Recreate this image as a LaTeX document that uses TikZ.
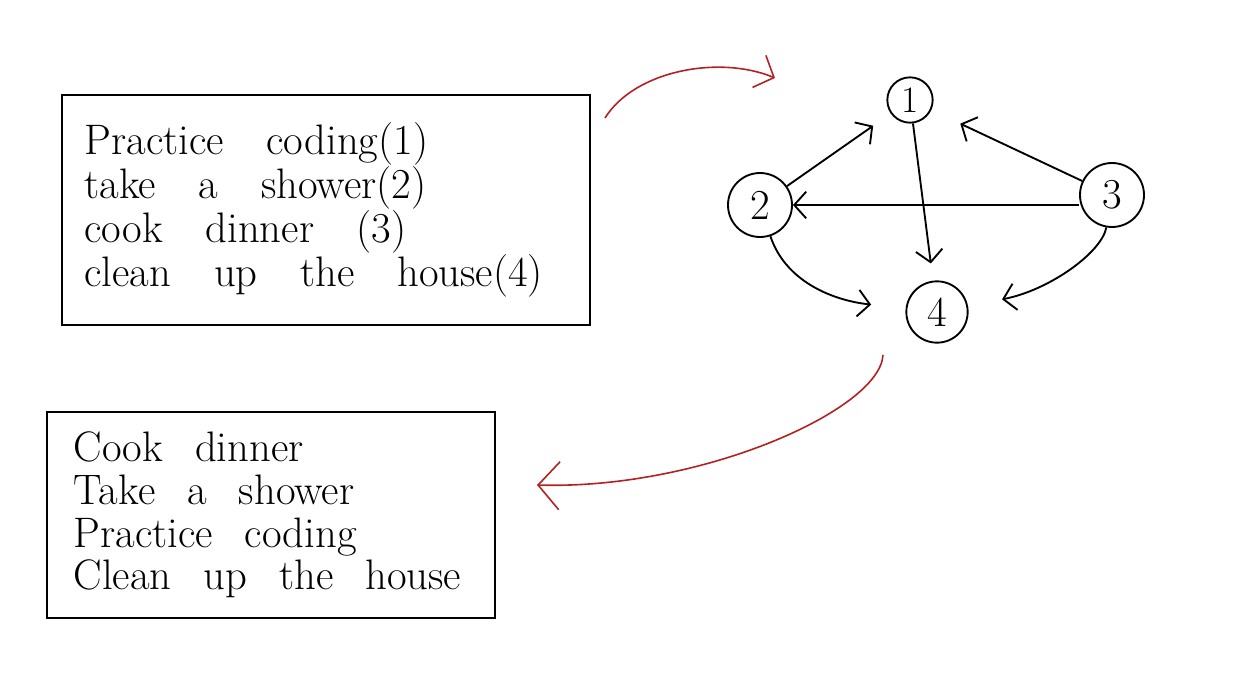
\documentclass[tikz,border=0pt]{standalone}
\usepackage{fontspec}
\usepackage{tikz}
\usetikzlibrary{arrows.meta}
\definecolor{penred}{RGB}{178,34,34}
\newcommand{\widewords}[1]{\spaceskip=#1 plus 0.2em\relax}

\begin{document}
\begin{tikzpicture}[x=0.75pt,y=0.75pt,yscale=-1,xscale=1,
    listbox/.style={draw, line width=1.4pt, rectangle, align=left, inner xsep=17pt,
      font=\fontsize{32}{31.5}\selectfont},
    task/.style={draw, circle, line width=1.4pt, inner sep=2pt, font=\fontsize{32}{32}\selectfont},
    dep/.style={line width=1.4pt, -{Straight Barb[length=9pt,width=20pt]}},
    flow/.style={penred, line width=1.2pt, -{Straight Barb[length=12pt,width=26pt]}}]
            \fill[white] (0,0) rectangle (1233,693);
            % lists
            \node[listbox, text width=362pt, minimum height=172pt] (todo) at (326,210) {\widewords{1em}Practice coding(1)\\take a shower(2)\\cook dinner (3)\\clean up the house(4)};
            \node[listbox, inner xsep=20pt, text width=296pt, minimum height=154pt, font=\fontsize{32}{32}\selectfont] (order) at (271,515) {\widewords{0.75em}Cook dinner\\Take a shower\\Practice coding\\Clean up the house};
            % graph
            \node[task, minimum size=34pt, font=\fontsize{28}{28}\selectfont] (t1) at (910,100) {1};
            \node[task, minimum size=48pt] (t2) at (760,205) {2};
            \node[task, minimum size=48pt] (t3) at (1112,195) {3};
            \node[task, minimum size=46pt] (t4) at (937,312) {4};
            \draw[dep, shorten >=16pt] (t2) -- (t1);
            \draw[dep, shorten >=13pt] (t1) -- (t4);
            \draw[dep, shorten >=24pt] (t3) -- (t1);
            \draw[dep] (t3.west |- t2.east) -- (t2.east);
            \draw[dep, shorten >=26pt] (t2) .. controls (785,280) and (830,300) .. (t4);
            \draw[dep, shorten >=26pt] (t3) .. controls (1102,252) and (1050,290) .. (t4);
            % red arrows
            \coordinate (fromlist) at (605,118);
            \coordinate (tograph) at (775,78);
            \coordinate (fromgraph) at (883,355);
            \coordinate (toorder) at (537,485);
            \draw[flow] (fromlist) .. controls (635,70) and (720,55) .. (tograph);
            \draw[flow, -{Straight Barb[length=16pt,width=36pt]}] (fromgraph) .. controls (880,410) and (700,490) .. (toorder);
\end{tikzpicture}
\end{document}
